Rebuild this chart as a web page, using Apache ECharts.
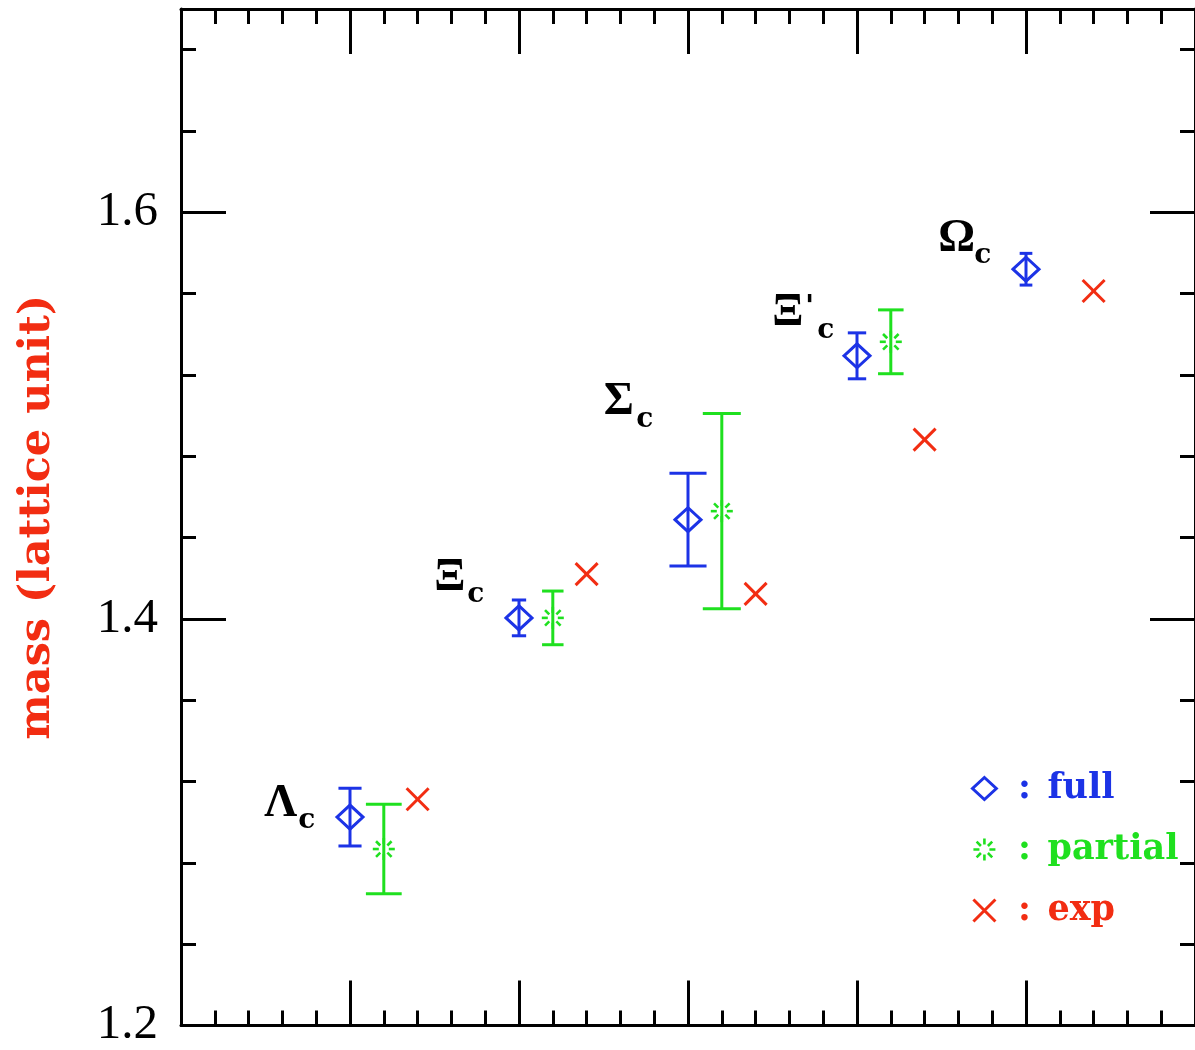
<!DOCTYPE html>
<html>
<head>
<meta charset="utf-8">
<script src="https://cdn.jsdelivr.net/npm/echarts@6/dist/echarts.min.js"></script>
<style>
html,body{margin:0;padding:0;background:#fff;}
#chart{width:1195px;height:1050px;}
</style>
</head>
<body>
<div id="chart"></div>
<script>
// ---- data ----
const categories   = ['Λc', 'Ξc', 'Σc', "Ξ'c", 'Ωc'];
const greekLetters = ['Λ', 'Ξ', 'Σ', 'Ξ', 'Ω'];
const primes       = ['', '', '', '′', ''];
const fullMass     = [1.3025, 1.4005, 1.4488, 1.5294, 1.5720];
const fullErr      = [0.0142, 0.0088, 0.0228, 0.0113, 0.0078];
const partialMass  = [1.2868, 1.4005, 1.4530, 1.5363, null];
const partialErr   = [0.0220, 0.0132, 0.0480, 0.0157, null];
const expMass      = [1.3113, 1.4220, 1.4123, 1.4882, 1.5613];
const labelMass    = [1.3091, 1.4203, 1.5064, 1.5502, 1.5870];
const yTickLabels  = ['1.2', '1.4', '1.6'];

const BLUE = '#1c33e6', GREEN = '#1fe01f', RED = '#f22d12';

const OFF_FULL = 0, OFF_PART = 0.2, OFF_EXP = 0.4, OFF_LABEL = -0.41;

const fullData = categories.map((c, i) => [i + 1 + OFF_FULL, fullMass[i], fullErr[i]]);
const partData = categories.map((c, i) => [i + 1 + OFF_PART, partialMass[i], partialErr[i]])
                           .filter(d => d[1] != null);
const expData  = categories.map((c, i) => [i + 1 + OFF_EXP, expMass[i]]);
const labelData = categories.map((c, i) => [i + 1 + OFF_LABEL, labelMass[i], i]);

function lineEl(x1, y1, x2, y2, color, w) {
  return {type: 'line', shape: {x1, y1, x2, y2}, style: {stroke: color, lineWidth: w, fill: null}};
}
function errorBars(color, api) {
  const x = api.value(0), y = api.value(1), e = api.value(2);
  const t = api.coord([x, y + e]), b = api.coord([x, y - e]);
  const half = (b[1] - t[1]) / 2;
  const cap = Math.min(0.4 * half, 19);
  return [
    lineEl(t[0], t[1], b[0], b[1], color, 3),
    lineEl(t[0] - cap, t[1], t[0] + cap, t[1], color, 3),
    lineEl(b[0] - cap, b[1], b[0] + cap, b[1], color, 3)
  ];
}
function renderFull(params, api) {
  const c = api.coord([api.value(0), api.value(1)]);
  const ch = errorBars(BLUE, api);
  ch.push({type: 'polygon', shape: {points: [[c[0]-13, c[1]], [c[0], c[1]-12], [c[0]+13, c[1]], [c[0], c[1]+12]]},
           style: {stroke: BLUE, lineWidth: 3, fill: null}});
  return {type: 'group', children: ch};
}
function renderPartial(params, api) {
  const c = api.coord([api.value(0), api.value(1)]);
  const ch = errorBars(GREEN, api);
  for (let k = 0; k < 8; k++) {
    const a = k * Math.PI / 4;
    ch.push(lineEl(c[0] + 5 * Math.cos(a), c[1] + 5 * Math.sin(a),
                   c[0] + 11 * Math.cos(a), c[1] + 11 * Math.sin(a), GREEN, 2.6));
  }
  return {type: 'group', children: ch};
}
function renderExp(params, api) {
  const c = api.coord([api.value(0), api.value(1)]);
  return {type: 'group', children: [
    lineEl(c[0]-11, c[1]-11, c[0]+11, c[1]+11, RED, 3),
    lineEl(c[0]+11, c[1]-11, c[0]-11, c[1]+11, RED, 3)
  ]};
}
function renderLabel(params, api) {
  const c = api.coord([api.value(0), api.value(1)]);
  const i = api.value(2);
  const ch = [{type: 'text', x: c[0], y: c[1], style: {text: greekLetters[i], align: 'center', verticalAlign: 'middle',
               font: 'bold 46px "Liberation Serif"', fill: '#000'}}];
  let sx = 26;
  if (primes[i]) {
    ch.push({type: 'text', x: c[0] + 22, y: c[1] - 5, style: {text: "'", align: 'center', verticalAlign: 'middle',
             font: 'bold 30px "DejaVu Serif"', fill: '#000'}});
    sx = 38;
  }
  ch.push({type: 'text', x: c[0] + sx, y: c[1] + 17, style: {text: 'c', align: 'center', verticalAlign: 'middle',
           font: 'bold 28px "DejaVu Serif"', fill: '#000'}});
  return {type: 'group', children: ch};
}

const axisLineStyle = {show: true, onZero: false, lineStyle: {color: '#000', width: 3}};
const noLine = {show: false, onZero: false};
function xAx(pos, interval, len, line) {
  return {type: 'value', position: pos, gridIndex: 0, min: 0, max: 6, interval: interval,
          axisLine: line ? axisLineStyle : noLine,
          axisTick: {show: true, inside: true, length: len, lineStyle: {color: '#000', width: 3}},
          axisLabel: {show: false}, splitLine: {show: false}};
}
function yAx(pos, interval, len, line, labels) {
  const a = {type: 'value', position: pos, gridIndex: 0, min: 1.2, max: 1.7, interval: interval,
          axisLine: line ? axisLineStyle : noLine,
          axisTick: {show: true, inside: true, length: len, lineStyle: {color: '#000', width: 3}},
          axisLabel: {show: false}, splitLine: {show: false}};
  if (labels) {
    a.axisLabel = {show: true, showMaxLabel: false, margin: 23, color: '#000',
                   fontFamily: '"Liberation Serif"', fontSize: 49,
                   formatter: v => { const s = v.toFixed(1); return yTickLabels.indexOf(s) >= 0 ? s : ''; }};
    a.name = 'mass (lattice unit)';
    a.nameLocation = 'middle';
    a.nameGap = 122;
    a.nameTextStyle = {color: RED, fontFamily: '"DejaVu Serif"', fontWeight: 'bold', fontSize: 43};
  }
  return a;
}

const richFor = (col) => ({
  color: col, fontFamily: '"DejaVu Serif"', fontWeight: 'bold', fontSize: 35, lineHeight: 40
});
const rich = {};
[['full', BLUE], ['partial', GREEN], ['exp', RED]].forEach(([n, col]) => {
  rich['c_' + n] = Object.assign({width: 46, align: 'center'}, richFor(col));
  rich['w_' + n] = richFor(col);
});

const option = {
  animation: false,
  backgroundColor: '#fff',
  grid: {left: 181, top: 9, width: 1019, height: 1021, containLabel: false},
  xAxis: [xAx('bottom', 1, 45, true), xAx('bottom', 0.2, 15, false),
          xAx('top', 1, 45, true), xAx('top', 0.2, 15, false)],
  yAxis: [yAx('left', 0.2, 45, true, true), yAx('left', 0.04, 15, false, false),
          yAx('right', 0.2, 45, true, false), yAx('right', 0.04, 15, false, false)],
  legend: {
    show: true, orient: 'vertical', left: 966, top: 766, itemWidth: 24, itemHeight: 22, itemGap: 26,
    selectedMode: false,
    formatter: n => '{c_' + n + '|:}{w_' + n + '|' + n + '}',
    textStyle: {fontFamily: '"DejaVu Serif"', fontWeight: 'bold', fontSize: 35, rich: rich},
    data: [
      {name: 'full', icon: 'path://M0,-12L13,0L0,12L-13,0Z',
       itemStyle: {color: 'rgba(0,0,0,0)', borderColor: BLUE, borderWidth: 3}},
      {name: 'partial', icon: 'path://M5,0L11,0M3.5,3.5L7.8,7.8M0,5L0,11M-3.5,3.5L-7.8,7.8M-5,0L-11,0M-3.5,-3.5L-7.8,-7.8M0,-5L0,-11M3.5,-3.5L7.8,-7.8',
       itemStyle: {color: 'rgba(0,0,0,0)', borderColor: GREEN, borderWidth: 2.6}},
      {name: 'exp', icon: 'path://M-11,-11L11,11M11,-11L-11,11',
       itemStyle: {color: 'rgba(0,0,0,0)', borderColor: RED, borderWidth: 3}}
    ]
  },
  series: [
    {name: 'full', type: 'custom', xAxisIndex: 0, yAxisIndex: 0, renderItem: renderFull, data: fullData,
     itemStyle: {color: BLUE}, encode: {x: 0, y: 1}},
    {name: 'partial', type: 'custom', xAxisIndex: 0, yAxisIndex: 0, renderItem: renderPartial, data: partData,
     itemStyle: {color: GREEN}, encode: {x: 0, y: 1}},
    {name: 'exp', type: 'custom', xAxisIndex: 0, yAxisIndex: 0, renderItem: renderExp, data: expData,
     itemStyle: {color: RED}, encode: {x: 0, y: 1}},
    {name: 'names', type: 'custom', xAxisIndex: 0, yAxisIndex: 0, renderItem: renderLabel, data: labelData,
     encode: {x: 0, y: 1}}
  ]
};

const chart = echarts.init(document.getElementById('chart'), null, {renderer: 'canvas'});
chart.setOption(option);
</script>
</body>
</html>
